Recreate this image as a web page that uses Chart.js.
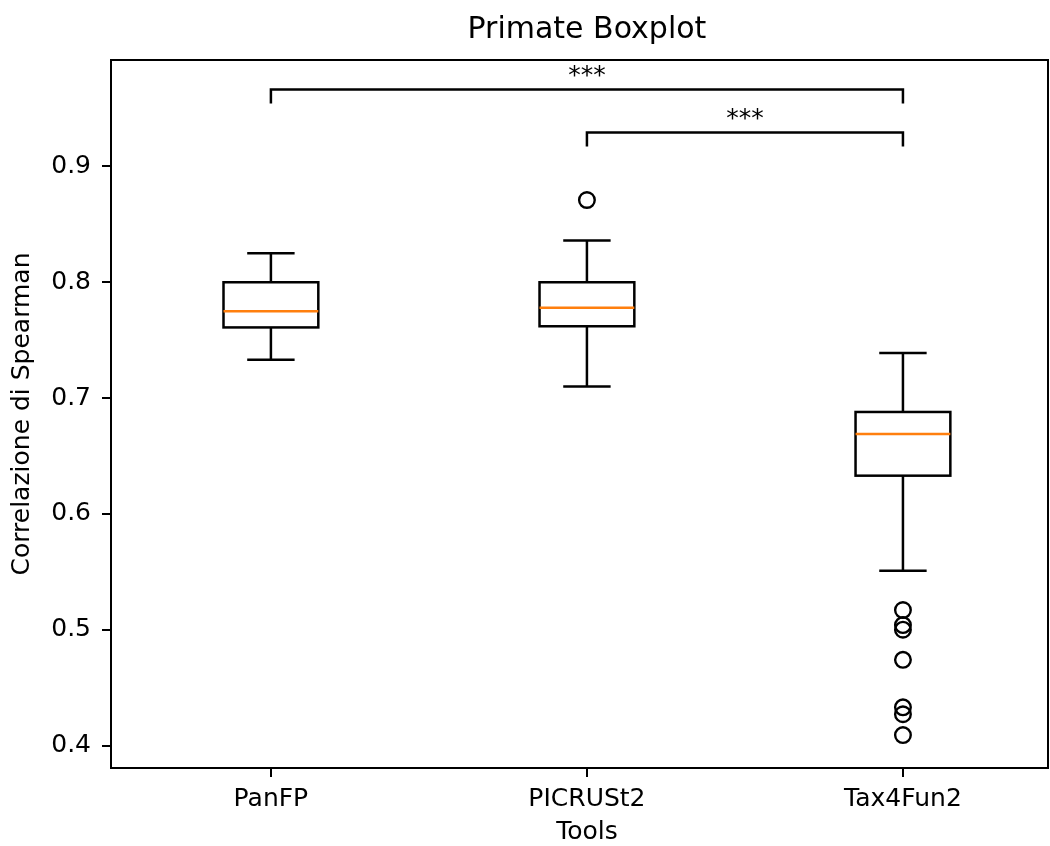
<!DOCTYPE html>
<html>
<head>
<meta charset="utf-8">
<title>Primate Boxplot</title>
<script src="https://cdn.jsdelivr.net/npm/chart.js@4.4.1/dist/chart.umd.min.js"></script>
<style>
  html, body { margin: 0; padding: 0; background: #fff; }
</style>
</head>
<body>
<canvas id="boxChart" width="1050" height="846"></canvas>
<script>
// Box statistics
const tools = ["PanFP", "PICRUSt2", "Tax4Fun2"];
const whiskerLow = [0.733, 0.710, 0.551];
const q1 = [0.761, 0.762, 0.633];
const median = [0.775, 0.778, 0.669];
const q3 = [0.800, 0.800, 0.688];
const whiskerHigh = [0.825, 0.836, 0.739];
const outliers = [[], [0.871], [0.517, 0.504, 0.500, 0.474, 0.433, 0.427, 0.409]];
const yTicks = [0.4, 0.5, 0.6, 0.7, 0.8, 0.9];

// Significance brackets (tool index from / to, height, label)
const bracketFrom = [0, 1];
const bracketTo = [2, 2];
const bracketY = [0.9664, 0.9293];
const bracketLabels = ["***", "***"];

const chartTitle = "Primate Boxplot";
const xTitle = "Tools";

const BOX_WIDTH = 0.3;
const CAP_WIDTH = 0.15;
const BRACKET_DROP = 0.012;
const FONT = "'DejaVu Sans', sans-serif";

Chart.defaults.font.family = FONT;
Chart.defaults.color = "#000";

// Draw boxes, whiskers and medians using the chart scales
const boxPlugin = {
    id: "boxes",
    beforeDatasetsDraw(chart) {
        const { ctx, scales: { x, y } } = chart;
        ctx.save();
        ctx.lineWidth = 2.5;
        ctx.lineCap = "butt";
        tools.forEach((tool, i) => {
            const pos = i + 1;
            const cx = x.getPixelForValue(pos);
            const bl = x.getPixelForValue(pos - BOX_WIDTH / 2);
            const br = x.getPixelForValue(pos + BOX_WIDTH / 2);
            const cl = x.getPixelForValue(pos - CAP_WIDTH / 2);
            const cr = x.getPixelForValue(pos + CAP_WIDTH / 2);
            const yQ1 = y.getPixelForValue(q1[i]);
            const yQ3 = y.getPixelForValue(q3[i]);
            const yLo = y.getPixelForValue(whiskerLow[i]);
            const yHi = y.getPixelForValue(whiskerHigh[i]);
            const yMed = y.getPixelForValue(median[i]);

            ctx.strokeStyle = "#000";
            ctx.beginPath();
            // whiskers
            ctx.moveTo(cx, yQ1); ctx.lineTo(cx, yLo);
            ctx.moveTo(cx, yQ3); ctx.lineTo(cx, yHi);
            // caps
            ctx.moveTo(cl, yLo); ctx.lineTo(cr, yLo);
            ctx.moveTo(cl, yHi); ctx.lineTo(cr, yHi);
            ctx.stroke();
            // box
            ctx.strokeRect(bl, yQ3, br - bl, yQ1 - yQ3);
            // median
            ctx.strokeStyle = "#ff7f0e";
            ctx.beginPath();
            ctx.moveTo(bl, yMed); ctx.lineTo(br, yMed);
            ctx.stroke();
        });
        ctx.restore();
    },
    afterDatasetsDraw(chart) {
        const { ctx, scales: { x, y } } = chart;
        ctx.save();
        ctx.lineWidth = 2.5;
        ctx.strokeStyle = "#000";
        ctx.fillStyle = "#000";
        ctx.font = "25px " + FONT;
        ctx.textAlign = "center";
        ctx.textBaseline = "alphabetic";
        bracketY.forEach((level, k) => {
            const x1 = x.getPixelForValue(bracketFrom[k] + 1);
            const x2 = x.getPixelForValue(bracketTo[k] + 1);
            const yTop = y.getPixelForValue(level);
            const yBot = y.getPixelForValue(level - BRACKET_DROP);
            ctx.beginPath();
            ctx.moveTo(x1, yBot);
            ctx.lineTo(x1, yTop);
            ctx.lineTo(x2, yTop);
            ctx.lineTo(x2, yBot);
            ctx.stroke();
            ctx.fillText(bracketLabels[k], (x1 + x2) / 2, yTop - 7);
        });
        ctx.restore();
    },
    afterDraw(chart) {
        const { ctx, chartArea: a, scales: { x } } = chart;
        ctx.save();
        // frame around the plot area (all four spines)
        ctx.lineWidth = 2;
        ctx.strokeStyle = "#000";
        ctx.strokeRect(a.left, a.top, a.right - a.left, a.bottom - a.top);
        // title and x label centred over the middle category, as in the reference
        const mid = x.getPixelForValue(2);
        ctx.fillStyle = "#000";
        ctx.textAlign = "center";
        ctx.textBaseline = "middle";
        ctx.font = "30px " + FONT;
        ctx.fillText(chartTitle, mid, 30);
        ctx.font = "25px " + FONT;
        ctx.fillText(xTitle, mid, 832);
        ctx.restore();
    }
};

const outlierPoints = outliers.flatMap((vals, i) => vals.map(v => ({ x: i + 1, y: v })));

const ctx = document.getElementById("boxChart").getContext("2d");
const boxChart = new Chart(ctx, {
    type: "scatter",
    data: {
        datasets: [{
            label: "Outliers",
            data: outlierPoints,
            pointStyle: "circle",
            pointRadius: 7.8,
            pointBorderWidth: 2.4,
            borderColor: "#000",
            backgroundColor: "rgba(0,0,0,0)"
        }]
    },
    options: {
        responsive: false,
        animation: false,
        layout: { autoPadding: false, padding: { top: 60, right: 2, bottom: 0, left: 0 } },
        plugins: {
            legend: { display: false },
            tooltip: { enabled: false },
            title: { display: false }
        },
        scales: {
            x: {
                type: "linear",
                min: 0.494,
                max: 3.459,
                afterBuildTicks: axis => { axis.ticks = tools.map((t, i) => ({ value: i + 1 })); },
                afterFit: scale => { scale.height = 78; },
                ticks: {
                    callback: value => tools[value - 1],
                    font: { size: 25 },
                    color: "#000",
                    padding: 7,
                    maxRotation: 0,
                    autoSkip: false
                },
                grid: { drawOnChartArea: false, drawTicks: true, tickLength: 9, color: "#000", lineWidth: 2 },
                border: { display: false },
                title: { display: false }
            },
            y: {
                type: "linear",
                min: 0.3806,
                max: 0.9919,
                afterBuildTicks: axis => { axis.ticks = yTicks.map(v => ({ value: v })); },
                afterFit: scale => { scale.width = 111; },
                ticks: {
                    callback: value => value.toFixed(1),
                    font: { size: 25 },
                    color: "#000",
                    padding: 11
                },
                grid: { drawOnChartArea: false, drawTicks: true, tickLength: 9, color: "#000", lineWidth: 2 },
                border: { display: false },
                title: {
                    display: true,
                    text: "Correlazione di Spearman",
                    color: "#000",
                    font: { size: 25 },
                    padding: { top: 7, bottom: 0 }
                }
            }
        }
    },
    plugins: [boxPlugin]
});
</script>
</body>
</html>
